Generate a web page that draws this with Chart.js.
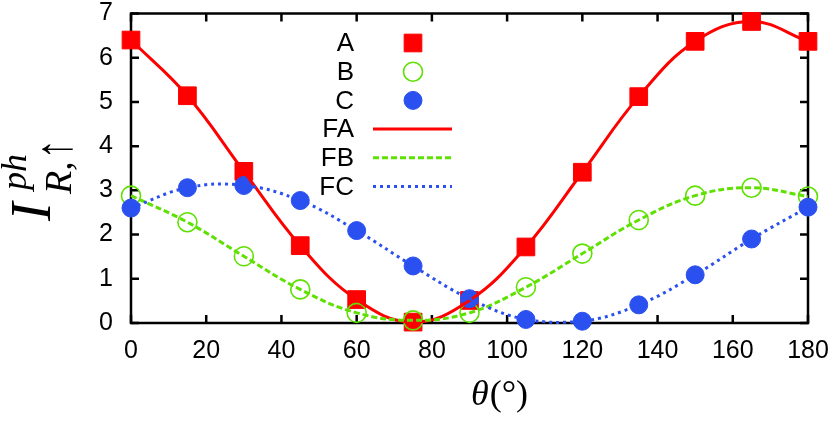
<!DOCTYPE html>
<html>
<head>
<meta charset="utf-8">
<script src="https://cdn.jsdelivr.net/npm/chart.js@4.4.1/dist/chart.umd.min.js"></script>
<style>
  html, body { margin: 0; padding: 0; background: #fff; }
  #wrap { width: 838px; height: 423px; }
</style>
</head>
<body>
<div id="wrap"><canvas id="chart" width="838" height="423"></canvas></div>
<script>
// angles (degrees) where the data were sampled
const angles = [0, 15, 30, 45, 60, 75, 90, 105, 120, 135, 150, 165, 180];

// measured points
const seriesA = [6.40, 5.14, 3.43, 1.75, 0.53, 0.02, 0.51, 1.72, 3.41, 5.12, 6.37, 6.82, 6.37];
const seriesB = [2.88, 2.28, 1.51, 0.76, 0.23, 0.06, 0.23, 0.81, 1.57, 2.33, 2.88, 3.06, 2.86];
const seriesC = [2.60, 3.06, 3.11, 2.77, 2.09, 1.29, 0.55, 0.08, 0.04, 0.41, 1.09, 1.90, 2.62];

const xTicks = [0, 20, 40, 60, 80, 100, 120, 140, 160, 180];
const yTicks = [0, 1, 2, 3, 4, 5, 6, 7];

const RED = '#ff0000';
const GREEN = '#5ee000';
const BLUE = '#2a50f0';
const SANS = '"Liberation Sans", Arial, Helvetica, sans-serif';
const SERIF = '"Liberation Serif", "DejaVu Serif", serif';

const toPts = vals => angles.map((a, i) => ({ x: a, y: vals[i] }));

// border with inward ticks on all four sides (gnuplot look)
const frame = {
    id: 'frame',
    beforeDatasetsDraw(chart) {
        const { ctx, chartArea: a, scales } = chart;
        const len = 8;
        ctx.save();
        ctx.strokeStyle = '#000';
        ctx.lineWidth = 2.5;
        ctx.beginPath();
        xTicks.forEach(v => {
            const px = scales.x.getPixelForValue(v);
            ctx.moveTo(px, a.bottom); ctx.lineTo(px, a.bottom - len);
            ctx.moveTo(px, a.top); ctx.lineTo(px, a.top + len);
        });
        yTicks.forEach(v => {
            const py = scales.y.getPixelForValue(v);
            ctx.moveTo(a.left, py); ctx.lineTo(a.left + len, py);
            ctx.moveTo(a.right, py); ctx.lineTo(a.right - len, py);
        });
        ctx.stroke();
        ctx.strokeRect(a.left, a.top, a.right - a.left, a.bottom - a.top);
        ctx.restore();
    }
};

// legend inside the plot, labels right aligned, samples to the right
const keyBox = {
    id: 'keyBox',
    afterDatasetsDraw(chart) {
        const ctx = chart.ctx;
        const textRight = 354, sampleX = 413, lineL = 373, lineR = 452;
        const top = 43, step = 28.7;
        ctx.save();
        chart.data.datasets.forEach((ds, i) => {
            const y = top + i * step;
            ctx.fillStyle = '#000';
            ctx.font = '26px ' + SANS;
            ctx.textAlign = 'right';
            ctx.textBaseline = 'middle';
            ctx.fillText(ds.label, textRight, y + 1);
            if (ds.showLine) {
                ctx.strokeStyle = ds.borderColor;
                ctx.lineWidth = ds.borderWidth;
                ctx.setLineDash(ds.borderDash || []);
                ctx.beginPath();
                ctx.moveTo(lineL, y); ctx.lineTo(lineR, y);
                ctx.stroke();
                ctx.setLineDash([]);
            } else {
                ctx.fillStyle = ds.pointBackgroundColor;
                ctx.strokeStyle = ds.pointBorderColor;
                ctx.lineWidth = ds.pointBorderWidth;
                Chart.helpers.drawPoint(ctx, {
                    pointStyle: ds.pointStyle, radius: ds.pointRadius,
                    borderWidth: ds.pointBorderWidth, rotation: 0
                }, sampleX, y);
            }
        });
        ctx.restore();
    }
};

// axis titles with italic math symbols
const titles = {
    id: 'titles',
    afterDraw(chart) {
        const ctx = chart.ctx;
        ctx.save();
        ctx.fillStyle = '#000';
        ctx.textBaseline = 'alphabetic';
        ctx.textAlign = 'left';
        // x title: theta(deg)
        ctx.font = 'italic 36px ' + SERIF;
        const th = 'θ';
        const thW = ctx.measureText(th).width;
        ctx.font = '36px ' + SERIF;
        const rest = '(°)';
        const restW = ctx.measureText(rest).width;
        const cx = 499, base = 405;
        const x0 = cx - (thW + restW) / 2;
        ctx.font = 'italic 36px ' + SERIF;
        ctx.fillText(th, x0, base);
        ctx.font = '36px ' + SERIF;
        ctx.fillText(rest, x0 + thW + 1, base);

        // y title: I^{ph}_{R,up}, rotated
        ctx.translate(0, 221);
        ctx.rotate(-Math.PI / 2);
        ctx.font = 'italic 56px ' + SERIF;
        ctx.fillText('I', 0, 50);
        ctx.font = 'italic 36px ' + SERIF;
        ctx.fillText('ph', 31, 26);
        ctx.font = 'italic 38px ' + SERIF;
        ctx.fillText('R,', 27, 71);
        const rW = ctx.measureText('R,').width;
        // long thin arrow: stretch the glyph along its height
        ctx.font = '40px "Liberation Serif", serif';
        ctx.scale(1, 1.3);
        ctx.fillText('↑', 27 + rW + 2, 71 / 1.3);
        ctx.restore();
    }
};

new Chart(document.getElementById('chart'), {
    type: 'scatter',
    data: {
        datasets: [
            { label: 'A', data: toPts(seriesA), pointStyle: 'rect', pointRadius: 12.5,
              pointBackgroundColor: RED, pointBorderColor: RED, pointBorderWidth: 1, order: 6, clip: false },
            { label: 'B', data: toPts(seriesB), pointStyle: 'circle', pointRadius: 9.5,
              pointBackgroundColor: 'rgba(0,0,0,0)', pointBorderColor: GREEN, pointBorderWidth: 1.6, order: 5, clip: false },
            { label: 'C', data: toPts(seriesC), pointStyle: 'circle', pointRadius: 9,
              pointBackgroundColor: BLUE, pointBorderColor: BLUE, pointBorderWidth: 1, order: 4, clip: false },
            { label: 'FA', data: toPts(seriesA), showLine: true, pointRadius: 0, tension: 0.4,
              borderColor: RED, borderWidth: 3, order: 3, clip: false },
            { label: 'FB', data: toPts(seriesB), showLine: true, pointRadius: 0, tension: 0.4,
              borderColor: GREEN, borderWidth: 3, borderDash: [6, 3], order: 2, clip: false },
            { label: 'FC', data: toPts(seriesC), showLine: true, pointRadius: 0, tension: 0.4,
              borderColor: BLUE, borderWidth: 3, borderDash: [3, 4], order: 1, clip: false }
        ]
    },
    options: {
        responsive: false,
        animation: false,
        events: [],
        layout: { padding: { left: 0, right: 30, top: 13, bottom: 0 } },
        plugins: { legend: { display: false }, tooltip: { enabled: false } },
        scales: {
            x: {
                type: 'linear', min: 0, max: 180,
                afterFit: s => { s.height = 100; s.paddingLeft = 0; s.paddingRight = 0; },
                afterBuildTicks: s => { s.ticks = xTicks.map(v => ({ value: v })); },
                grid: { display: false, drawTicks: false },
                border: { display: false },
                ticks: { color: '#000', padding: 16, font: { family: SANS, size: 25, lineHeight: 1 } }
            },
            y: {
                min: 0, max: 7,
                afterFit: s => { s.width = 131; s.paddingTop = 0; s.paddingBottom = 0; },
                afterBuildTicks: s => { s.ticks = yTicks.map(v => ({ value: v })); },
                grid: { display: false, drawTicks: false },
                border: { display: false },
                ticks: { color: '#000', padding: 18, font: { family: SANS, size: 25, lineHeight: 1 } }
            }
        }
    },
    plugins: [frame, keyBox, titles]
});
</script>
</body>
</html>
